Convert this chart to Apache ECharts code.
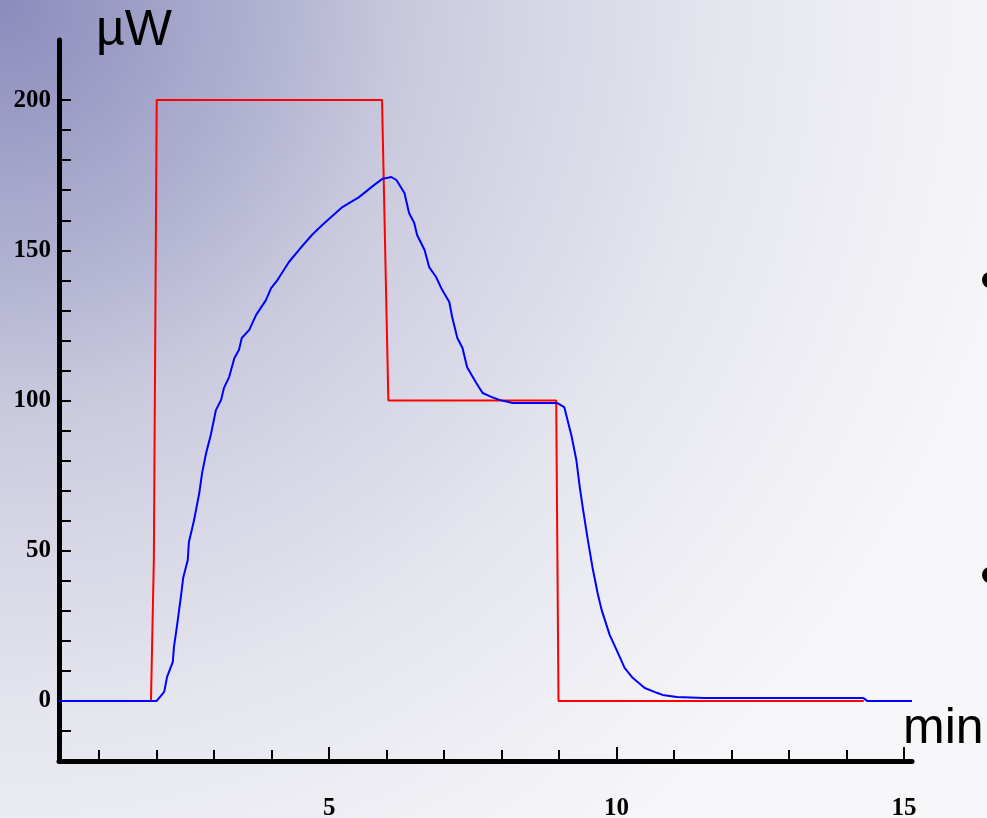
<!DOCTYPE html>
<html lang="en">
<head>
    <meta charset="UTF-8" />
    <title>Power</title>
    <style>
        body {
            margin: 0;
            padding: 0;
        }
        .chart {
            width: 987px;
            height: 818px;
        }
    </style>
</head>
<body>
<div class="chart"></div>
<script src="https://cdn.jsdelivr.net/npm/echarts@6.0.0/dist/echarts.min.js"></script>
<script>
    // measured curve (blue), minutes / µW
    const blueTime = [0.3, 2.0, 2.13, 2.18, 2.28, 2.3, 2.35, 2.42, 2.46, 2.54, 2.56, 2.61, 2.65, 2.74, 2.79, 2.86, 2.94,
        3.03, 3.12, 3.17, 3.26, 3.35, 3.43, 3.48, 3.61, 3.73, 3.9, 3.99, 4.09, 4.3, 4.53, 4.7, 4.88, 5.23, 5.52,
        5.78, 5.92, 6.08, 6.17, 6.31, 6.39, 6.48, 6.53, 6.66, 6.74, 6.86, 6.95, 7.09, 7.14, 7.23, 7.32, 7.4, 7.56,
        7.67, 7.82, 7.96, 8.19, 8.96, 9.09, 9.22, 9.3, 9.36, 9.41, 9.5, 9.58, 9.67, 9.74, 9.88, 10.0, 10.14, 10.28,
        10.49, 10.7, 10.8, 11.05, 11.53, 14.29, 14.36, 15.14];
    const bluePower = [0, 0, 3, 8, 13, 18, 24.6, 34.6, 40.9, 46.9, 52.9, 56.9, 60.2, 69.2, 75.9, 82.5, 88.5,
        96.8, 100.2, 104.2, 107.8, 114.1, 116.8, 120.8, 123.5, 128.5, 133.4, 137.4, 139.8, 146.1, 151.4, 155.1, 158.4, 164.4, 167.7,
        171.7, 173.7, 174.4, 173.4, 169.1, 162.4, 159.1, 155.1, 150.1, 144.4, 141.1, 137.4, 132.8, 127.8, 120.8, 117.5, 111.1, 105.8,
        102.5, 101.2, 100.2, 99.2, 99.2, 97.8, 87.9, 80.2, 71.2, 64.6, 53.6, 44.6, 35.9, 30.3, 22.0, 17.0, 11.0, 7.7,
        4.3, 2.7, 2.0, 1.3, 1.0, 1.0, 0, 0];

    // applied power (red)
    const redTime = [0.3, 1.9, 1.95, 2.0, 5.92, 6.03, 8.95, 8.99, 14.3];
    const redPower = [0, 0, 47, 200, 200, 100, 100, 0, 0];

    const xMinorTicks = [1, 2, 3, 4, 5, 6, 7, 8, 9, 10, 11, 12, 13, 14, 15];
    const xMajorTicks = [5, 10, 15];
    const yTicks = [-10, 0, 10, 20, 30, 40, 50, 60, 70, 80, 90, 100, 110, 120, 130, 140, 150, 160, 170, 180, 190, 200];
    const yLabels = [0, 50, 100, 150, 200];

    const zip = (xs, ys) => xs.map((x, i) => [x, ys[i]]);

    const labelFont = {
        fontFamily: 'Liberation Serif',
        fontWeight: 'bold',
        fontSize: 25,
        color: '#000'
    };

    const chart = echarts.init(document.querySelector('.chart'));
    const option = {
        animation: false,
        backgroundColor: {
            type: 'radial',
            x: 0, y: 0, r: 1050,
            global: true,
            colorStops: [
                { offset: 0, color: '#8a8bbb' },
                { offset: 0.28, color: '#b5b6d3' },
                { offset: 0.4, color: '#cbcbdf' },
                { offset: 0.68, color: '#e5e5ee' },
                { offset: 1, color: '#f7f7fa' }
            ]
        },
        grid: { left: 59, right: 75, top: 40, bottom: 57, outerBoundsMode: 'none' },
        xAxis: [
            {
                type: 'value',
                min: 0.3,
                max: 15.14,
                axisLine: { show: true, onZero: false, lineStyle: { color: '#000', width: 5 } },
                axisTick: { show: true, inside: true, length: 11, customValues: xMinorTicks,
                    lineStyle: { color: '#000', width: 2 } },
                axisLabel: Object.assign({ customValues: xMajorTicks, margin: 35 }, labelFont),
                splitLine: { show: false }
            },
            {
                type: 'value',
                min: 0.3,
                max: 15.14,
                position: 'bottom',
                axisLine: { show: false, onZero: false },
                axisTick: { show: true, inside: true, length: 14, customValues: xMajorTicks,
                    lineStyle: { color: '#000', width: 2 } },
                axisLabel: { show: false },
                splitLine: { show: false }
            }
        ],
        yAxis: {
            type: 'value',
            min: -20,
            max: 220,
            axisLine: { show: true, onZero: false, lineStyle: { color: '#000', width: 5 } },
            axisTick: { show: true, inside: true, length: 12, customValues: yTicks,
                lineStyle: { color: '#000', width: 2 } },
            axisLabel: Object.assign({ customValues: yLabels, margin: 8 }, labelFont),
            splitLine: { show: false }
        },
        graphic: [
            { type: 'text', left: 96, top: 6,
                style: { text: 'µW', fontFamily: 'Liberation Sans', fontSize: 50, fill: '#000' } },
            { type: 'text', left: 903, top: 704,
                style: { text: 'min', fontFamily: 'Liberation Sans', fontSize: 50, fill: '#000' } },
            { type: 'circle', shape: { cx: 990, cy: 280, r: 8 }, style: { fill: '#000' } },
            { type: 'circle', shape: { cx: 990, cy: 575, r: 8 }, style: { fill: '#000' } }
        ],
        series: [
            {
                type: 'line',
                data: zip(redTime, redPower),
                showSymbol: false,
                lineStyle: { color: '#ff0000', width: 2 }
            },
            {
                type: 'line',
                data: zip(blueTime, bluePower),
                showSymbol: false,
                lineStyle: { color: '#0000ff', width: 2 }
            }
        ]
    };
    chart.setOption(option);
</script>
</body>
</html>
